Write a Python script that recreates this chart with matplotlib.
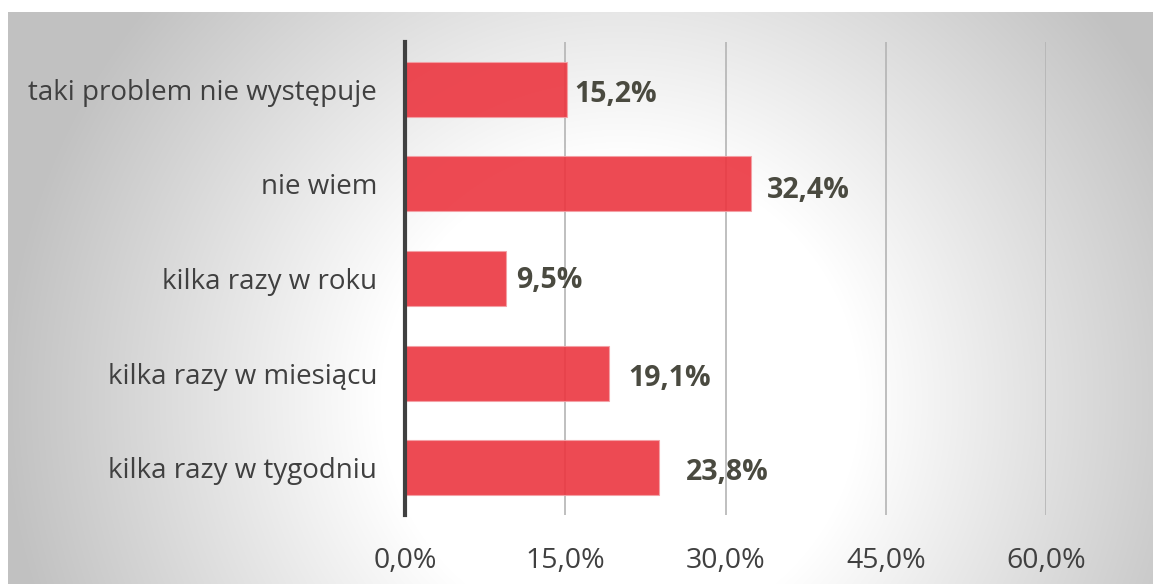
import matplotlib.pyplot as plt
import numpy as np

categories = ["taki problem nie występuje", "nie wiem", "kilka razy w roku",
              "kilka razy w miesiącu", "kilka razy w tygodniu"]
values = [15.2, 32.4, 9.5, 19.1, 23.8]
xticks = [0, 15, 30, 45, 60]

# label nudges (pixels) to mimic the original placement
label_dx = [7, 16, 10, 19, 27]
label_dy = [-5, -7, -2, -5, -5]

plt.rcParams['font.family'] = ['Open Sans', 'DejaVu Sans']

W, H = 1153, 584
fig = plt.figure(figsize=(W / 100, H / 100), dpi=100)

# radial grey background
bg = fig.add_axes([8 / W, 0, 1 - 8 / W, 1 - 12 / H])
bg.axis('off')
yy, xx = np.mgrid[12:H, 8:W]
r = np.hypot(xx - 620, yy - 400)
drop = 62 * np.clip((r - 240) / 380, 0, 1)
shade = (255 - drop) / 255
bg.imshow(np.dstack([shade] * 3), aspect='auto', extent=(0, 1, 0, 1))
bg.set_zorder(-5)

ax = fig.add_axes([405 / W, 1 - 515 / H, (1046 - 405) / W, (515 - 42) / H])
ax.set_facecolor('none')

ypos = np.arange(len(categories))
bars = ax.barh(ypos, values, height=0.58, color='#ec3640', alpha=0.9,
               edgecolor='#f3a0a5', linewidth=0.8, zorder=3)

ax.set_xlim(0, 60)
ax.set_ylim(len(categories) - 0.5, -0.5)
ax.set_xticks(xticks)
ax.set_xticklabels([f"{t:.1f}%".replace('.', ',') for t in xticks])
ax.set_yticks(ypos)
ax.set_yticklabels(categories)
ax.tick_params(axis='x', length=0, pad=23, labelsize=20.5, labelcolor='#404040')
ax.tick_params(axis='y', length=0, pad=20, labelsize=20, labelcolor='#404040')

ax.grid(axis='x', color='#b4b4b4', linewidth=1.2, zorder=1)
ax.set_axisbelow(True)
for s in ['top', 'right', 'bottom']:
    ax.spines[s].set_visible(False)
ax.spines['left'].set_color('#404040')
ax.spines['left'].set_linewidth(3)
ax.spines['left'].set_zorder(4)

for bar, v, dx, dy in zip(bars, values, label_dx, label_dy):
    ax.annotate(f"{v:.1f}%".replace('.', ','),
                (bar.get_width(), bar.get_y() + bar.get_height() / 2),
                xytext=(dx, dy), textcoords='offset pixels',
                ha='left', va='center', fontsize=20.5, fontweight='bold',
                color='#4a4a40', zorder=5)

fig.savefig('out.png', dpi=100)
